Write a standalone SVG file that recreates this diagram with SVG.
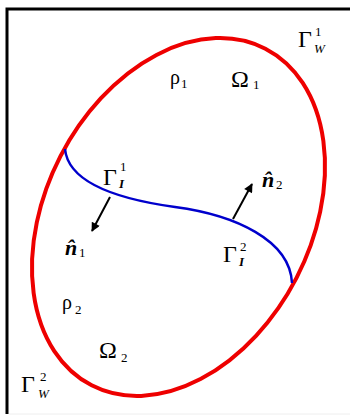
<svg xmlns="http://www.w3.org/2000/svg" width="350" height="418" viewBox="0 0 350 418">
<style>
.t{font-family:"Liberation Serif","Times New Roman",serif;fill:#000}
.big{font-size:24px}
.nn{font-size:22px}
.rho{font-size:20px}
.sub{font-size:13px}
.it{font-style:italic}
.bi{font-style:italic;font-weight:bold}
</style>
<defs>
<marker id="ah" viewBox="0 0 10 10" refX="9" refY="5" markerWidth="5" markerHeight="4.5" orient="auto" markerUnits="strokeWidth">
<path d="M0,0 L10,5 L0,10 Z" fill="#000"/>
</marker>
</defs>
<rect width="350" height="418" fill="#fff"/>
<g id="frame" fill="none">
<path d="M7,414 L7,9 L350,9" stroke="#000" stroke-width="3"/>
<path d="M9,414 L350,414" stroke="#eeeeee" stroke-width="1"/>
</g>
<g id="boundary">
<ellipse cx="178.5" cy="217" rx="189.4" ry="132.8" transform="rotate(-62.7 178.5 217)" fill="none" stroke="#ee0000" stroke-width="4"/>
</g>
<g id="connectors">
<path id="interface" d="M65,149 C68,180 110,198 175,207 C235,215 290,240 292,283" fill="none" stroke="#0000cc" stroke-width="2.5"/>
<line x1="110" y1="197" x2="92" y2="231" stroke="#000" stroke-width="2" marker-end="url(#ah)"/>
<line x1="233" y1="219" x2="252" y2="184" stroke="#000" stroke-width="2" marker-end="url(#ah)"/>
</g>
<g id="labels">
<g id="gw1"><text class="t big" x="298" y="47">Γ<tspan class="sub" x="315" y="36">1</tspan><tspan class="sub it" x="314" y="53">W</tspan></text></g>
<g id="rho1"><text class="t rho" x="170" y="84">ρ<tspan class="sub" x="181" y="88">1</tspan></text></g>
<g id="omega1"><text class="t big" x="231" y="87">Ω<tspan class="sub" x="253" y="89">1</tspan></text></g>
<g id="gi1"><text class="t big" x="103" y="185">Γ<tspan class="sub" x="120" y="171">1</tspan><tspan class="sub bi" x="119" y="188">I</tspan></text></g>
<g id="n2"><text class="t nn bi" x="262" y="187">n̂<tspan class="sub" style="font-weight:normal;font-style:normal" x="276" y="189">2</tspan></text></g>
<g id="n1"><text class="t nn bi" x="65" y="255">n̂<tspan class="sub" style="font-weight:normal;font-style:normal" x="79" y="257">1</tspan></text></g>
<g id="gi2"><text class="t big" x="223" y="262">Γ<tspan class="sub" x="240" y="251">2</tspan><tspan class="sub bi" x="239" y="266">I</tspan></text></g>
<g id="rho2"><text class="t rho" x="62" y="309">ρ<tspan class="sub" x="75" y="314">2</tspan></text></g>
<g id="omega2"><text class="t big" x="99" y="358">Ω<tspan class="sub" x="121" y="362">2</tspan></text></g>
<g id="gw2"><text class="t big" x="21" y="392">Γ<tspan class="sub" x="40" y="381">2</tspan><tspan class="sub it" x="38" y="398">W</tspan></text></g>
</g>
</svg>
